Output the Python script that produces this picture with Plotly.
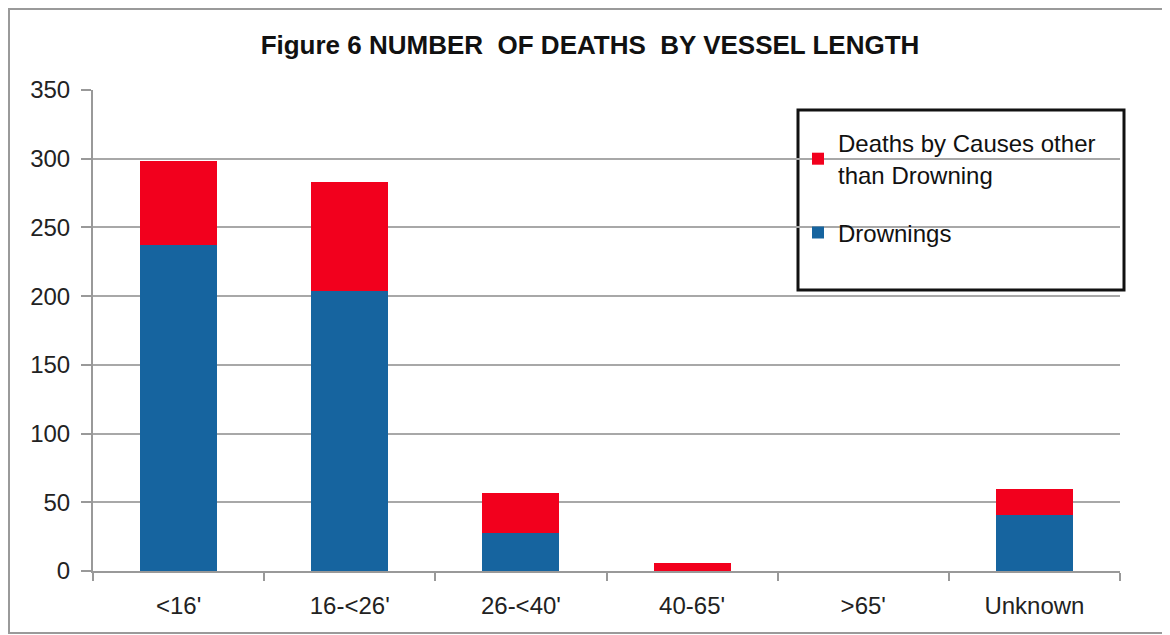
import plotly.graph_objects as go

categories = ["<16'", "16-<26'", "26-<40'", "40-65'", ">65'", "Unknown"]
drownings = [237, 204, 28, 0, 0, 41]
other_causes = [61, 79, 29, 6, 0, 19]
y_ticks = [0, 50, 100, 150, 200, 250, 300, 350]

RED = "#F2001D"
BLUE = "#16649F"
FONT = "Liberation Sans, Arial, sans-serif"

fig = go.Figure()
fig.add_trace(go.Bar(x=categories, y=drownings, name="Drownings",
                     marker=dict(color=BLUE, line=dict(width=0)),
                     legendgroup="a", legendrank=2))
fig.add_trace(go.Bar(x=categories, y=other_causes,
                     name="Deaths by Causes other<br>than Drowning",
                     marker=dict(color=RED, line=dict(width=0)),
                     legendgroup="b", legendrank=1))

# page body has an 8px offset, so the figure is drawn 8px smaller
OFF = 8
W, H = 1170 - OFF, 635 - OFF
L, R, T, B = 93 - OFF, 50, 90 - OFF, 64
pw, ph = W - L - R, H - T - B

def px(x):
    return (x - OFF - L) / pw

def py(y):
    return (H - B - (y - OFF)) / ph

fig.update_layout(
    width=W, height=H,
    margin=dict(l=L, r=R, t=T, b=B),
    barmode="stack",
    bargap=0.55,
    plot_bgcolor="white",
    paper_bgcolor="white",
    font=dict(family=FONT, color="#222222"),
    title=dict(text="<b>Figure 6 NUMBER&nbsp; OF DEATHS&nbsp; BY VESSEL LENGTH</b>",
               x=(590 - OFF) / W, xanchor="center",
               y=1 - (45 - OFF) / H, yanchor="middle",
               font=dict(size=26, family=FONT, color="#111111")),
    xaxis=dict(showline=True, linecolor="#999999", linewidth=2,
               ticks="outside", tickson="boundaries", ticklen=8,
               tickcolor="#999999", tickwidth=2, ticklabelstandoff=12,
               tickfont=dict(size=24, family=FONT, color="#222222"),
               showgrid=False),
    yaxis=dict(range=[0, 350], tickvals=y_ticks, showline=True,
               linecolor="#999999", linewidth=2, ticks="outside",
               ticklen=10, tickcolor="#999999", tickwidth=2,
               ticklabelstandoff=6,
               gridcolor="#a8a8a8", gridwidth=2,
               tickfont=dict(size=24, family=FONT, color="#222222"),
               zeroline=False),
    legend=dict(x=px(798), y=py(121), xanchor="left", yanchor="top",
                traceorder="grouped", tracegroupgap=24,
                bgcolor="rgba(0,0,0,0)", borderwidth=0,
                font=dict(size=24, family=FONT, color="#111111"),
                itemwidth=30),
    shapes=[
        dict(type="rect", xref="paper", yref="paper",
             x0=px(798), x1=px(1124), y0=py(290), y1=py(110),
             line=dict(color="#111111", width=3), fillcolor="white",
             layer="below"),
        dict(type="rect", xref="paper", yref="paper",
             x0=px(9), x1=px(1168), y0=py(633), y1=py(9),
             line=dict(color="#9a9a9a", width=2), layer="below"),
    ],
)

fig.write_html("out.html")
